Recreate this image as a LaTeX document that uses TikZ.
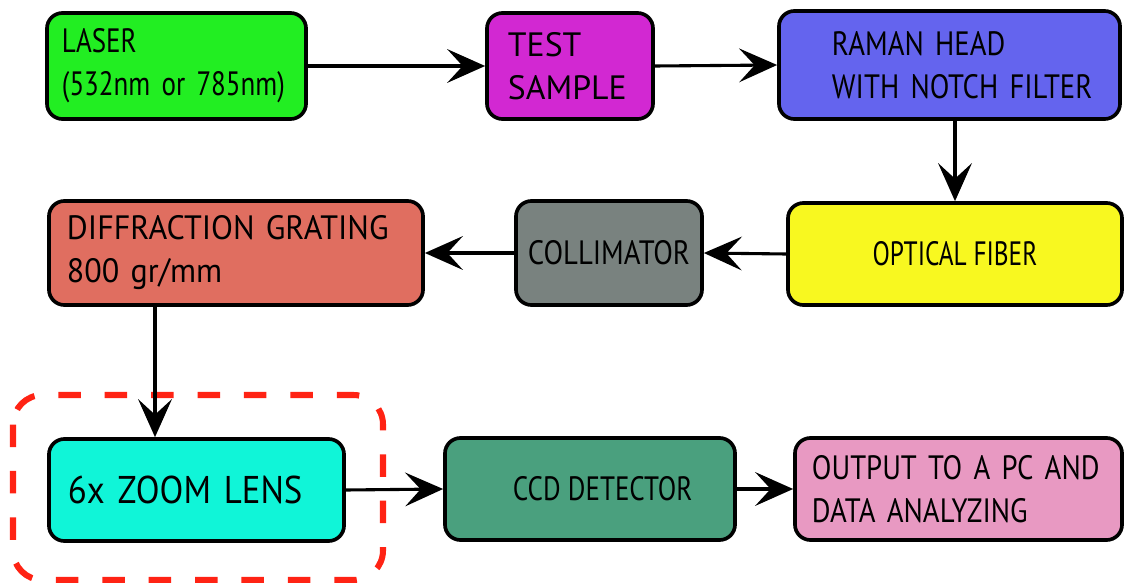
\documentclass[tikz,border=0pt]{standalone}
\usepackage{fontspec}
\setmainfont{PT Sans}[FakeStretch=0.9]
\newfontfamily\plainfont{PT Sans}
\newfontfamily\widefont[FakeStretch=0.95]{PT Sans}
\newfontfamily\slimfont[FakeStretch=0.85]{PT Sans}
\newfontfamily\narrowfont[FakeStretch=0.8]{PT Sans}
\newfontfamily\thinfont[FakeStretch=0.75]{PT Sans}
\usetikzlibrary{arrows.meta}
\begin{document}
\begin{tikzpicture}[x=0.025cm,y=-0.025cm,line join=round]
        % Colors
        \definecolor{lasercolor}{RGB}{34,238,34}
        \definecolor{samplecolor}{RGB}{210,40,210}
        \definecolor{ramancolor}{RGB}{100,100,238}
        \definecolor{fibercolor}{RGB}{248,248,32}
        \definecolor{collimatorcolor}{RGB}{121,130,127}
        \definecolor{gratingcolor}{RGB}{224,110,96}
        \definecolor{lenscolor}{RGB}{16,245,216}
        \definecolor{ccdcolor}{RGB}{74,160,126}
        \definecolor{outputcolor}{RGB}{232,153,194}
        \definecolor{framecolor}{RGB}{255,35,20}
        % Styles
        \tikzstyle{block}=[draw,line width=2.6pt,rounded corners=11pt,inner xsep=0pt,inner ysep=0pt,font=\fontsize{24pt}{30.6pt}\selectfont]
        \tikzstyle{left block}=[block,align=left]
        \tikzstyle{center block}=[block,align=center]
        \tikzstyle{flow}=[line width=2.2pt,-{Stealth[length=27pt,width=24pt,inset=11pt]}]
        \tikzstyle{lens frame}=[draw=framecolor,line width=4.3pt,dash pattern=on 16pt off 17pt,rounded corners=21pt]
        \useasboundingbox (0,0) rectangle (1124,583);
        %The graphic
        \node[left block,fill=lasercolor,minimum width=6.475cm,minimum height=2.65cm,text width=5.725cm] (laser) at (176.5,66) {\narrowfont LASER\\\mbox{(532nm or 785nm)}};
        \node[left block,fill=samplecolor,minimum width=4.15cm,minimum height=2.65cm,text width=3.1cm] (sample) at (570,66) {\plainfont TEST\\SAMPLE};
        \node[left block,fill=ramancolor,minimum width=8.525cm,minimum height=2.7cm,text width=5.875cm] (raman) at (949.5,65) {\slimfont RAMAN HEAD\\\mbox{WITH NOTCH FILTER}};
        \node[center block,fill=fibercolor,minimum width=8.35cm,minimum height=2.55cm] (fiber) at (955,254) {\thinfont OPTICAL FIBER};
        \node[center block,fill=collimatorcolor,minimum width=4.65cm,minimum height=2.6cm] (collimator) at (609,253) {\slimfont COLLIMATOR};
        \node[left block,fill=gratingcolor,minimum width=9.35cm,minimum height=2.6cm,text width=8.45cm] (grating) at (236,253) {\widefont DIFFRACTION GRATING\\800 gr/mm};
        \node[left block,fill=lenscolor,minimum width=7.375cm,minimum height=2.55cm,text width=6.425cm,font=\fontsize{27.5pt}{30pt}\selectfont] (lens) at (196.5,490) {6x ZOOM LENS};
        \node[center block,fill=ccdcolor,minimum width=7.25cm,minimum height=2.55cm] (ccd) at (590,489) {\narrowfont\hspace*{18pt}CCD DETECTOR};
        \node[left block,fill=outputcolor,minimum width=8.175cm,minimum height=2.55cm,text width=7.325cm] (output) at (958.5,489) {\slimfont\mbox{OUTPUT TO A PC AND}\\DATA ANALYZING};
        \draw[lens frame] (13,395) rectangle (383,580);
        % Connectors
        \coordinate (drop) at (155,0);
        \draw[flow] (laser.east) -- (sample.west);
        \draw[flow] (sample.east) -- (raman.west);
        \draw[flow] (fiber.north |- raman.south) -- (fiber.north);
        \draw[flow] (fiber.west) -- (collimator.east);
        \draw[flow] (collimator.west) -- (grating.east);
        \draw[flow] (grating.south -| drop) -- (lens.north -| drop);
        \draw[flow] (lens.east) -- (ccd.west);
        \draw[flow] (ccd.east) -- (output.west);
\end{tikzpicture}
\end{document}
